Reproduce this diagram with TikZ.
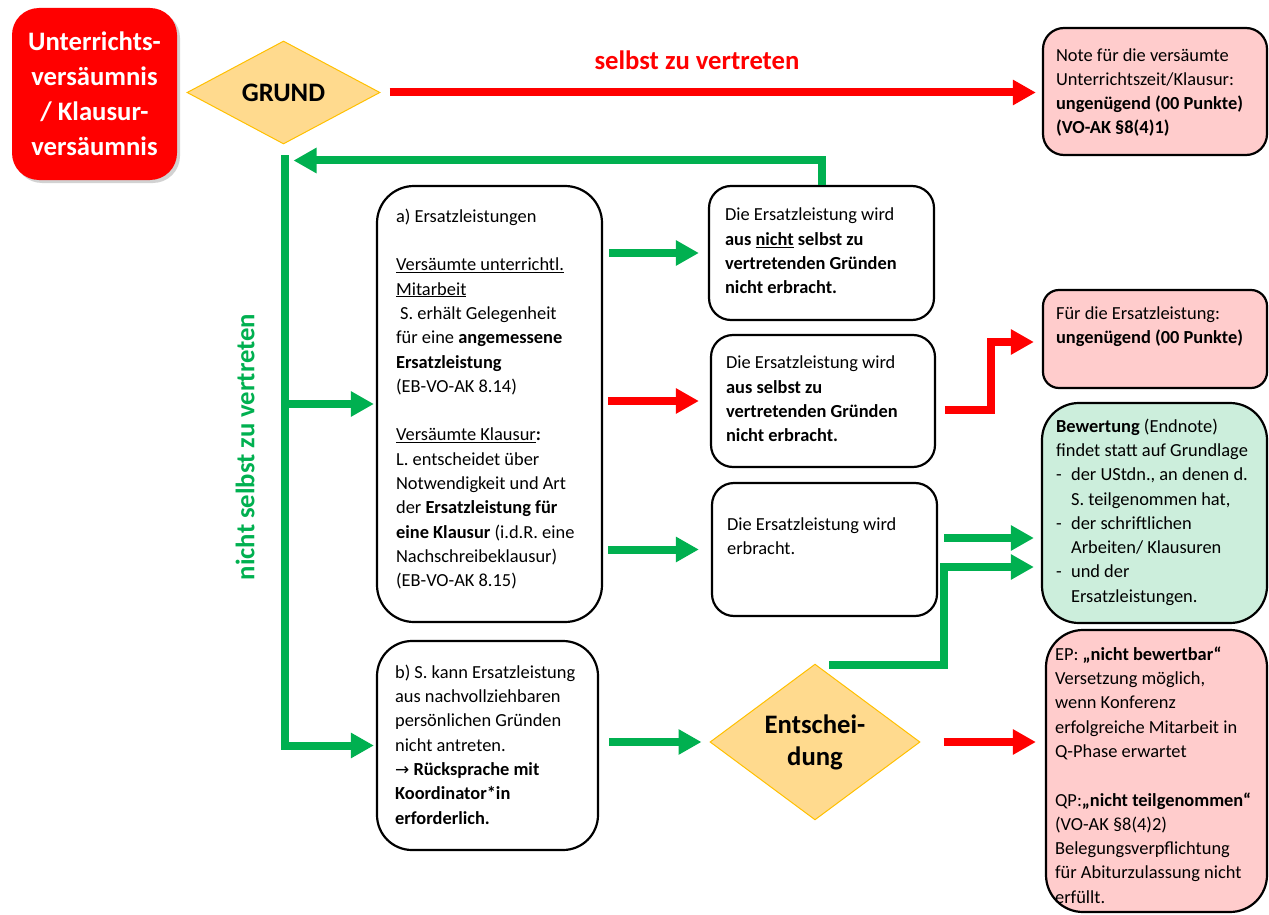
\documentclass[tikz,border=0pt]{standalone}
\usepackage{fontspec}
\setmainfont{Carlito}
\newfontfamily\arrowfont{DejaVu Sans}
\usetikzlibrary{shapes.geometric,arrows.meta,calc,shadows}
\definecolor{myred}{HTML}{FF0000}
\definecolor{mygreen}{HTML}{00B050}
\definecolor{pinkfill}{HTML}{FFCCCC}
\definecolor{mintfill}{HTML}{CCEEDC}
\definecolor{goldline}{HTML}{FFC000}
\definecolor{goldfill}{HTML}{FFDA8E}
\begin{document}
\begin{tikzpicture}[x=1pt,y=-1pt,
  box/.style={draw=black, line width=2.2pt, rectangle, inner sep=0pt},
  txt/.style={anchor=west, align=left, inner sep=0pt, font=\fontsize{18.4}{24.3}\selectfont},
  head/.style={font=\bfseries\fontsize{26.67}{34}\selectfont},
  dia/.style={diamond, draw=goldline, fill=goldfill, line width=1pt, inner sep=0pt, align=center, head},
  garrow/.style={draw=mygreen, line width=8pt, line join=miter, -{Triangle[length=23pt,width=24pt]}},
  rarrow/.style={draw=myred, line width=8pt, line join=miter, -{Triangle[length=23pt,width=24pt]}},
]
\path[use as bounding box, fill=white] (0,0) rectangle (1269,915);

% start box
\node[rectangle, rounded corners=27pt, fill=myred, minimum width=165pt, minimum height=172pt,
      text=white, align=center, head, font=\bfseries\fontsize{26.67}{35}\selectfont,
      drop shadow={shadow xshift=3pt, shadow yshift=-3pt, opacity=0.35}] (start) at (94.5,94)
  {Unterrichts-\\versäumnis\\/ Klausur-\\versäumnis};

% diamonds
\node[dia, minimum width=193pt, minimum height=103pt] (grund) at (283.5,92.5) {GRUND};
\node[dia, minimum width=210pt, minimum height=132pt, font=\bfseries\fontsize{26.67}{32}\selectfont] (ent) at (815,742) {\raisebox{-4pt}{Entschei-}\\\raisebox{-4pt}{dung}};

% note 1
\node[box, fill=pinkfill, rounded corners=21pt, minimum width=224pt, minimum height=127pt] (note1) at (1155,91.5) {};
\node[txt] (note1t) at ($(note1.west)+(14,1)$) {Note für die versäumte\\Unterrichtszeit/Klausur:\\\textbf{ungenügend (00 Punkte)}\\\textbf{(VO-AK §8(4)1)}};

% a) box
\node[box, rounded corners=37pt, minimum width=225pt, minimum height=436pt] (a) at (489.5,404) {};
\node[txt] (at) at ($(a.west)+(20,-5)$) {a) Ersatzleistungen\\[24.3pt]
\underline{Versäumte unterrichtl.}\\
\underline{Mitarbeit}\\
\hspace*{4pt}S. erhält Gelegenheit\\
für eine \textbf{angemessene}\\
\textbf{Ersatzleistung}\\
(EB-VO-AK 8.14)\\[24.3pt]
\underline{Versäumte Klausur}\textbf{:}\\
L. entscheidet über\\
Notwendigkeit und Art\\
der \textbf{Ersatzleistung für}\\
\textbf{eine Klausur} (i.d.R. eine\\
Nachschreibeklausur)\\
(EB-VO-AK 8.15)};

% middle boxes
\node[box, rounded corners=22pt, minimum width=225pt, minimum height=134pt] (box1) at (821.5,253) {};
\node[txt] (box1t) at ($(box1.west)+(17,-2)$) {Die Ersatzleistung wird\\\textbf{aus \underline{nicht} selbst zu}\\\textbf{vertretenden Gründen}\\\textbf{nicht erbracht.}};
\node[box, rounded corners=22pt, minimum width=224pt, minimum height=132pt] (box2) at (823,401) {};
\node[txt] (box2t) at ($(box2.west)+(16,-2)$) {Die Ersatzleistung wird\\\textbf{aus selbst zu}\\\textbf{vertretenden Gründen}\\\textbf{nicht erbracht.}};
\node[box, rounded corners=22pt, minimum width=225pt, minimum height=133pt] (box3) at (824.5,549.5) {};
\node[txt] (box3t) at ($(box3.west)+(16,-13)$) {Die Ersatzleistung wird\\erbracht.};

% note 2
\node[box, fill=pinkfill, rounded corners=16pt, minimum width=224pt, minimum height=98pt] (note2) at (1155,339) {};
\node[txt] (note2t) at ($(note2.west)+(14,-12)$) {Für die Ersatzleistung:\\\textbf{ungenügend (00 Punkte)}};

% green box
\node[box, fill=mintfill, rounded corners=37pt, minimum width=225pt, minimum height=220pt] (green) at (1154.5,513) {};
\node[txt] (greent) at ($(green.west)+(15,-1)$) {\textbf{Bewertung} (Endnote)\\
findet statt auf Grundlage\\
\makebox[15pt][l]{-}der UStdn., an denen d.\\
\hspace*{15pt}S. teilgenommen hat,\\
\makebox[15pt][l]{-}der schriftlichen\\
\hspace*{15pt}Arbeiten/ Klausuren\\
\makebox[15pt][l]{-}und der\\
\hspace*{15pt}Ersatzleistungen.};

% b) box
\node[box, rounded corners=35pt, minimum width=221pt, minimum height=209pt] (b) at (487.5,745.5) {};
\node[txt] (bt) at ($(b.west)+(19,-1)$) {b) S. kann Ersatzleistung\\
aus nachvollziehbaren\\
persönlichen Gründen\\
nicht antreten.\\
{\arrowfont\fontsize{17}{24.3}\selectfont →} \textbf{Rücksprache mit}\\
\textbf{Koordinator*in}\\
\textbf{erforderlich.}};

% note 3
\node[box, fill=pinkfill, rounded corners=37pt, minimum width=221pt, minimum height=282pt] (note3) at (1156.5,771) {};
\node[txt] (note3t) at ($(note3.west)+(10,4)$) {EP: \textbf{„nicht bewertbar“}\\
Versetzung möglich,\\
wenn Konferenz\\
erfolgreiche Mitarbeit in\\
Q-Phase erwartet\\[24.3pt]
QP:\textbf{„nicht teilgenommen“}\\
(VO-AK §8(4)2)\\
Belegungsverpflichtung\\
für Abiturzulassung nicht\\
erfüllt.};

% labels
\node[head, text=myred] (lbl1) at (697,60) {selbst zu vertreten};
\node[head, text=mygreen, rotate=90] (lbl2) at (245,447) {nicht selbst zu vertreten};

% connectors
\coordinate (trunktop) at ($(grund.south)+(1,11)$);
\draw[rarrow, shorten <=9pt, shorten >=6pt] (grund.east) -- (grund.east -| note1.west);
\draw[garrow, shorten >=2pt] (trunktop) -- (trunktop |- b.west) -- (b.west);
\draw[garrow, shorten >=2pt] (trunktop |- a.west) -- (a.west);
\draw[garrow] (box1.north) |- ($(trunktop)+(9,5)$);
\draw[garrow, shorten <=6pt, shorten >=9pt] (a.east |- box1.west) -- (box1.west);
\draw[rarrow, shorten <=5pt, shorten >=11pt] (a.east |- box2.west) -- (box2.west);
\draw[garrow, shorten <=5pt, shorten >=12pt] (a.east |- box3.west) -- (box3.west);
\draw[rarrow, shorten >=8pt] ($(box2.east)+(9,9)$) -- ++(46,0) |- ($(note2.west)+(0,3)$);
\draw[garrow, shorten >=7pt] ($(box3.east)+(6,-11.5)$) -- ($(green.west)+(0,25)$);
\draw[garrow, shorten >=7pt] ($(ent.north)+(14,1)$) -- ++(115,0) |- ($(green.west)+(0,54)$);
\draw[garrow, shorten <=10pt, shorten >=8pt] (b.east |- ent.west) -- (ent.west);
\draw[rarrow, shorten <=23pt, shorten >=9pt] (ent.east) -- (ent.east -| note3.west);
\end{tikzpicture}
\end{document}
